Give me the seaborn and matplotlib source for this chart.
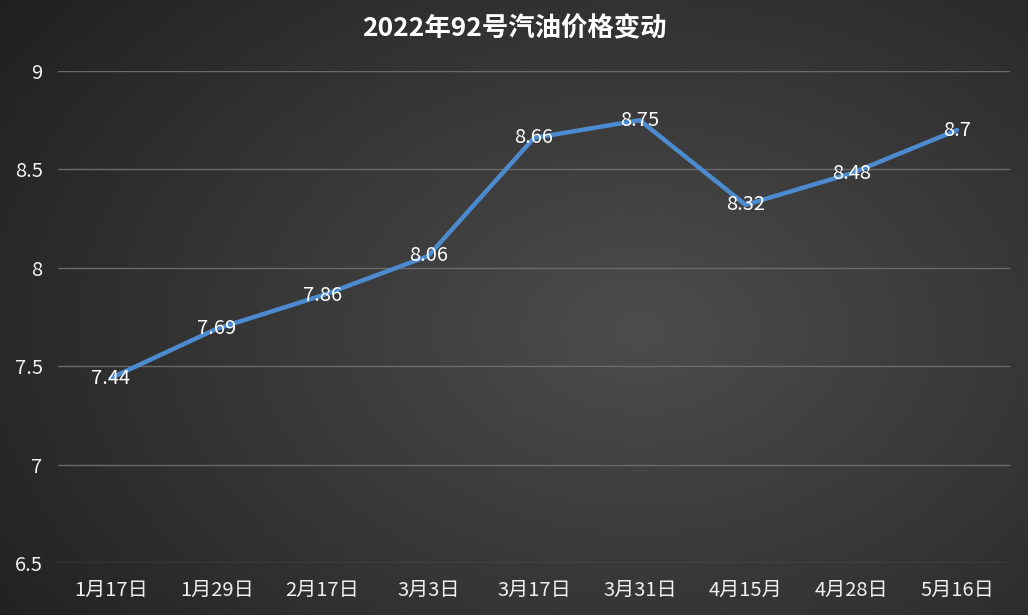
import numpy as np
import pandas as pd
import matplotlib
matplotlib.use("Agg")
import matplotlib.pyplot as plt
import seaborn as sns

dates = ["1月17日", "1月29日", "2月17日", "3月3日", "3月17日", "3月31日", "4月15月", "4月28日", "5月16日"]
prices = [7.44, 7.69, 7.86, 8.06, 8.66, 8.75, 8.32, 8.48, 8.7]
label_texts = ["7.44", "7.69", "7.86", "8.06", "8.66", "8.75", "8.32", "8.48", "8.7"]
yticks = [6.5, 7, 7.5, 8, 8.5, 9]
ytick_labels = ["6.5", "7", "7.5", "8", "8.5", "9"]
title = "2022年92号汽油价格变动"

sns.set_style("dark")
plt.rcParams['font.family'] = ['Noto Sans CJK SC', 'DejaVu Sans']

fig = plt.figure(figsize=(10.28, 6.15), dpi=100)

# radial gradient background
bg = fig.add_axes([0, 0, 1, 1])
H, W = 615, 1028
yy, xx = np.mgrid[0:H, 0:W]
cx, cy = 640, 330
r = np.sqrt(((xx - cx) / 680.0) ** 2 + ((yy - cy) / 470.0) ** 2)
val = 0.30 - 0.15 * np.clip(r, 0, 1.2)
img = np.dstack([val, val, val])
bg.imshow(img, extent=[0, 1, 0, 1], aspect='auto', origin='upper')
bg.set_axis_off()

ax = fig.add_axes([58 / 1028, 52 / 615, 952 / 1028, 492 / 615])
ax.patch.set_alpha(0)
df = pd.DataFrame({"date": dates, "price": prices})
sns.lineplot(data=df, x="date", y="price", ax=ax, sort=False,
             color="#4d8bd0", linewidth=3.2, zorder=3)

ax.set_xlim(-0.5, len(dates) - 0.5)
ax.set_ylim(6.5, 9)
ax.set_yticks(yticks)
ax.set_yticklabels(ytick_labels)
ax.set_xticks(range(len(dates)))
ax.set_xticklabels(dates)
ax.tick_params(axis='both', colors='#f0f0f0', labelsize=14.5, length=0)
ax.tick_params(axis='y', pad=11)
ax.tick_params(axis='x', pad=12)
ax.grid(axis='y', color='#6a6a6a', linewidth=1)
ax.grid(axis='x', visible=False)
ax.set_xlabel("")
ax.set_ylabel("")
for s in ax.spines.values():
    s.set_visible(False)

for i, (p, t) in enumerate(zip(prices, label_texts)):
    ax.text(i, p, t, ha='center', va='center', color='white', fontsize=14.5, zorder=5)

fig.text(0.5, 1 - 29 / 615, title, ha='center', va='center', color='white',
         fontsize=19, fontweight='bold')

fig.savefig("out.png", dpi=100)
